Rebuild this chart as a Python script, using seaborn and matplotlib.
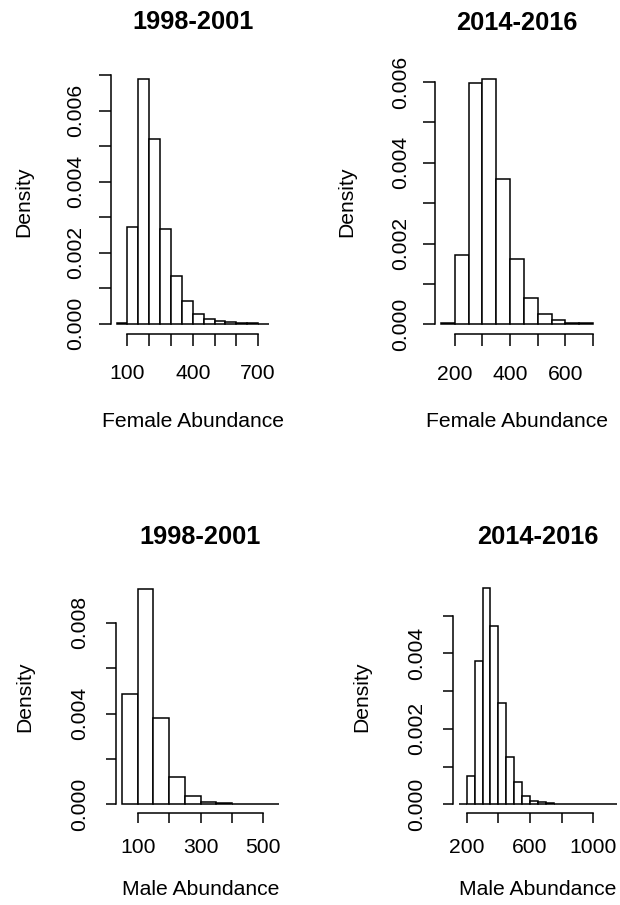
import numpy as np
import pandas as pd
import matplotlib
matplotlib.use('Agg')
import matplotlib.pyplot as plt
import seaborn as sns

sns.set_style('ticks')
plt.rcParams['font.family'] = ['Liberation Sans', 'DejaVu Sans']
plt.rcParams['text.color'] = 'black'
plt.rcParams['axes.labelcolor'] = 'black'

# ---- data (density per 50-unit bin) ----
titles = ['1998-2001', '2014-2016', '1998-2001', '2014-2016']
xlabels = ['Female Abundance', 'Female Abundance', 'Male Abundance', 'Male Abundance']

female_98_breaks = [50, 100, 150, 200, 250, 300, 350, 400, 450, 500, 550, 600, 650, 700, 750]
female_98_density = [0.00003, 0.00272, 0.0069, 0.00519, 0.00267, 0.00135, 0.00065,
                     0.00026, 0.00014, 0.00008, 0.00004, 0.00003, 0.00002, 0.0]

female_14_breaks = [150, 200, 250, 300, 350, 400, 450, 500, 550, 600, 650, 700]
female_14_density = [0.00003, 0.00171, 0.00597, 0.00607, 0.0036, 0.00162, 0.00065,
                     0.00026, 0.00011, 0.00004, 0.00003]

male_98_breaks = [50, 100, 150, 200, 250, 300, 350, 400, 450, 500, 550]
male_98_density = [0.00487, 0.00951, 0.00382, 0.00119, 0.00038, 0.00012, 0.00005,
                   0.00002, 0.00001, 0.0]

male_14_breaks = [150, 200, 250, 300, 350, 400, 450, 500, 550, 600, 650, 700, 750, 800,
                  850, 900, 950, 1000, 1050, 1100, 1150]
male_14_density = [0.0, 0.00074, 0.00379, 0.00573, 0.00472, 0.00269, 0.00126, 0.00058,
                   0.00023, 0.0001, 0.00006, 0.00003, 0.00002, 0.00002,
                   0.0, 0.0, 0.0, 0.0, 0.0, 0.0]

female_98_xticks = [100, 200, 300, 400, 500, 600, 700]
female_98_xlabels = ['100', '', '', '400', '', '', '700']
female_98_yticks = [0, 0.001, 0.002, 0.003, 0.004, 0.005, 0.006, 0.007]
female_98_ylabels = ['0.000', '', '0.002', '', '0.004', '', '0.006', '']

female_14_xticks = [200, 300, 400, 500, 600, 700]
female_14_xlabels = ['200', '', '400', '', '600', '']
female_14_yticks = [0, 0.001, 0.002, 0.003, 0.004, 0.005, 0.006]
female_14_ylabels = ['0.000', '', '0.002', '', '0.004', '', '0.006']

male_98_xticks = [100, 200, 300, 400, 500]
male_98_xlabels = ['100', '', '300', '', '500']
male_98_yticks = [0, 0.002, 0.004, 0.006, 0.008]
male_98_ylabels = ['0.000', '', '0.004', '', '0.008']

male_14_xticks = [200, 400, 600, 800, 1000]
male_14_xlabels = ['200', '', '600', '', '1000']
male_14_yticks = [0, 0.001, 0.002, 0.003, 0.004, 0.005]
male_14_ylabels = ['0.000', '', '0.002', '', '0.004', '']

hists = [
    (female_98_breaks, female_98_density, female_98_xticks, female_98_xlabels, female_98_yticks, female_98_ylabels),
    (female_14_breaks, female_14_density, female_14_xticks, female_14_xlabels, female_14_yticks, female_14_ylabels),
    (male_98_breaks, male_98_density, male_98_xticks, male_98_xlabels, male_98_yticks, male_98_ylabels),
    (male_14_breaks, male_14_density, male_14_xticks, male_14_xlabels, male_14_yticks, male_14_ylabels),
]

# ---- layout (pixels: left, top, right, bottom) ----
W, H = 620, 905
boxes = [(110.5, 69, 275, 333.5), (435, 69.5, 599, 334),
         (115.7, 580, 285.3, 813), (452.5, 579.5, 623.4, 813)]
tick_len = [8.4, 8.4, 7.2, 7.2]
xpad = [13.8, 13.8, 11.0, 11.0]
ypad = [9.6, 9.6, 12.0, 11.5]
title_gap = [39.7, 39.7, 35.7, 35.7]
xlab_gap = [93, 93, 82, 82]
ylab_gap = [81, 83, 85, 85]

fig = plt.figure(figsize=(6.2, 9.05), dpi=100)

for i, (breaks, dens, xt, xl, yt, yl) in enumerate(hists):
    l, t, r, b = boxes[i]
    wpx, hpx = r - l, b - t
    ax = fig.add_axes([l / W, 1 - b / H, wpx / W, hpx / H])
    mids = [(breaks[k] + breaks[k + 1]) / 2 for k in range(len(dens))]
    df = pd.DataFrame({'x': mids, 'w': dens})
    sns.histplot(data=df, x='x', weights='w', bins=breaks, stat='count',
                 color='white', edgecolor='black', linewidth=1.1, alpha=1, ax=ax)

    span = breaks[-1] - breaks[0]
    ax.set_xlim(breaks[0] - 0.04 * span, breaks[-1] + 0.04 * span)
    top = max(dens)
    ax.set_ylim(-0.04 * top, 1.04 * top)

    sns.despine(ax=ax)
    ax.spines['left'].set_bounds(yt[0], yt[-1])
    ax.spines['bottom'].set_bounds(xt[0], xt[-1])
    for s in ['left', 'bottom']:
        ax.spines[s].set_linewidth(1.1)
        ax.spines[s].set_color('black')

    ax.set_xticks(xt, labels=xl)
    ax.set_yticks(yt, labels=yl, rotation=90, va='center')
    ax.tick_params(length=tick_len[i], width=1.1, color='black', labelsize=15.2,
                   labelcolor='black')
    ax.tick_params(axis='x', pad=xpad[i])
    ax.tick_params(axis='y', pad=ypad[i])

    ax.set_title(titles[i], fontsize=18.3, fontweight='bold', y=1 + title_gap[i] / hpx,
                 va='baseline', pad=0, color='black')
    ax.set_xlabel(xlabels[i], fontsize=15.2, va='baseline')
    ax.xaxis.set_label_coords(0.5, -xlab_gap[i] / hpx)
    ax.set_ylabel('Density', fontsize=15.2, va='baseline')
    ax.yaxis.set_label_coords(-ylab_gap[i] / wpx, 0.5)

fig.savefig('out.png', dpi=100)
